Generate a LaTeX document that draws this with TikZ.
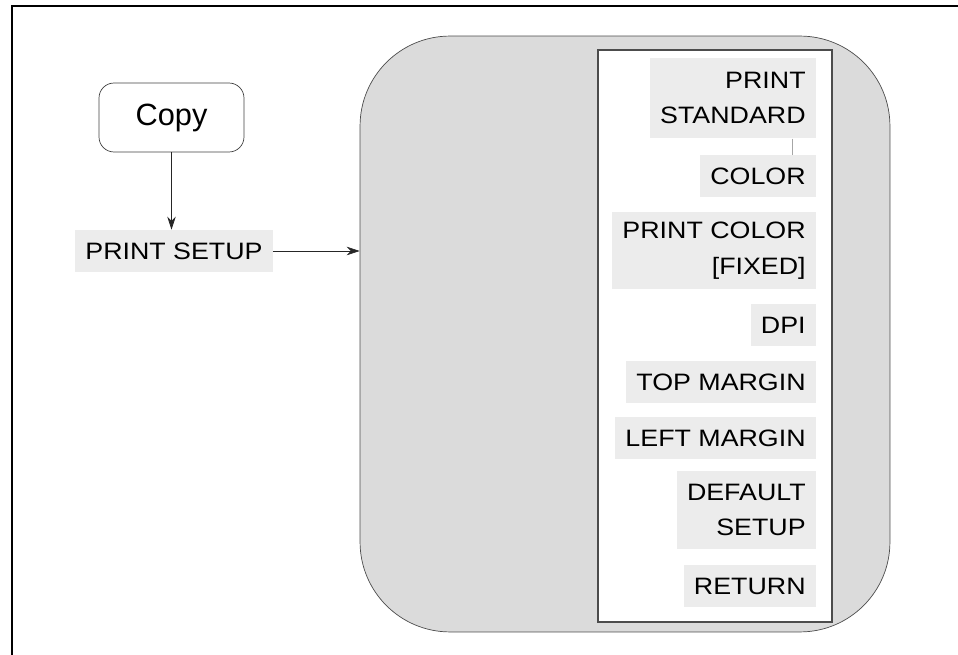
\documentclass[tikz,border=0pt]{standalone}
\usepackage{fontspec}
\setmainfont{Liberation Sans}
\newfontfamily\menufont[FakeStretch=1.13]{Liberation Sans}
\usetikzlibrary{arrows.meta,calc}
\tikzset{
  menuitem/.style={
    fill=gray!15,
    inner xsep=0.2cm,
    inner ysep=0.2cm,
    minimum height=0.84cm,
    align=right,
    anchor=north east,
    font=\menufont\fontsize{13.5}{20}\selectfont
  },
  menupanel/.style={
    draw=gray!60!black,
    fill=gray!28,
    rounded corners=1.8cm,
    minimum width=10.6cm,
    minimum height=11.92cm
  },
  startbox/.style={
    draw=gray!50!black,
    rounded corners=0.3cm,
    minimum width=2.9cm,
    minimum height=1.38cm,
    font=\fontsize{17.5}{20}\selectfont
  },
  flowarrow/.style={
    draw=gray!30!black,
    -{Stealth[length=0.26cm,width=0.17cm]}
  }
}

\begin{document}
\begin{tikzpicture}[x=0.02cm,y=-0.02cm]
  \useasboundingbox (0,0) rectangle (958,655);
  % frame
  \draw[line width=0.05cm] (958,6) -- (12,6) -- (12,655);

  % left side
  \node[startbox] (copy) at (171.5,117.5) {Copy};
  \node[menuitem, anchor=center, minimum width=3.88cm] (setup) at (174,251) {PRINT SETUP};
  \draw[flowarrow] (copy.south) -- (copy.south |- setup.north);

  % menu
  \node[menupanel] (menu) at (625,334) {};
  \draw[draw=gray!60!black, fill=white, line width=0.03cm] (598,50) rectangle (832,622);
  \draw[flowarrow] (setup.east) -- (setup -| menu.west);

  \node[menuitem, minimum height=1.6cm] (pstd) at (816,58) {PRINT\\STANDARD};
  \node[menuitem] (color) at (816,155) {COLOR};
  \node[menuitem, minimum height=1.52cm] (pcolor) at (816,212) {PRINT COLOR\\{}[FIXED]};
  \node[menuitem] (dpi) at (816,304) {DPI};
  \node[menuitem] (topm) at (816,361) {TOP MARGIN};
  \node[menuitem] (leftm) at (816,417) {LEFT MARGIN};
  \node[menuitem, minimum height=1.56cm] (defset) at (816,471) {DEFAULT\\SETUP};
  \node[menuitem] (ret) at (816,565) {RETURN};
  \draw[gray!70] ([xshift=-0.48cm]pstd.south east) -- ([xshift=-0.48cm]color.north east);
\end{tikzpicture}
\end{document}
